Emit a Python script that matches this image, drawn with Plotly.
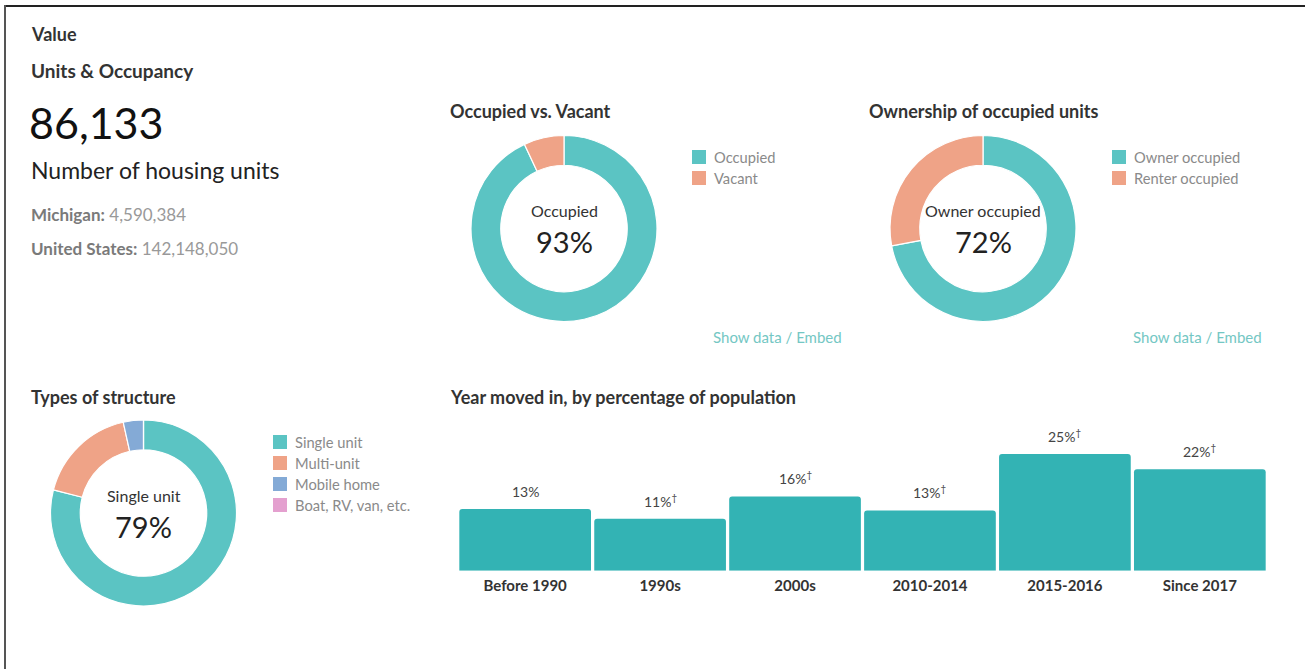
import plotly.graph_objects as go

W, H = 1305, 669

# ---------------- data ----------------
total_units = "86,133"
state_name = "Michigan"
state_units = "4,590,384"
us_units = "142,148,050"

occ_labels = ["Occupied", "Vacant"]
occ_values = [93, 7]

own_labels = ["Owner occupied", "Renter occupied"]
own_values = [72, 28]

struct_labels = ["Single unit", "Multi-unit", "Mobile home", "Boat, RV, van, etc."]
struct_values = [79, 17.5, 3.5, 0]

year_cats = ["Before 1990", "1990s", "2000s", "2010-2014", "2015-2016", "Since 2017"]
year_values = [13.2, 11.1, 15.9, 12.9, 25.0, 21.7]
year_labels = ["13%", "11%", "16%", "13%", "25%", "22%"]
year_dagger = [False, True, True, True, True, True]

# ---------------- style ----------------
FONT = "Lato, 'Open Sans', sans-serif"
pie_colors = ["#5bc4c3", "#efa387", "#84aad6", "#e4a0cf"]
bar_color = "#33b3b4"
link_color = "#74c7c4"


def px(x):
    return x / W


def py(y):
    return 1 - y / H


fig = go.Figure()
annotations = []
shapes = []


def add_donut(labels, values, cx, cy, r, legend_x, legend_y0, legend_step=21):
    fig.add_trace(go.Pie(
        labels=labels, values=values, hole=0.68, sort=False,
        direction="clockwise", rotation=0,
        marker=dict(colors=pie_colors[:len(labels)], line=dict(color="white", width=1.2)),
        textinfo="none", hoverinfo="label+percent", showlegend=False,
        domain=dict(x=[px(cx - r), px(cx + r)], y=[py(cy + r), py(cy - r)]),
    ))
    # centre label
    annotations.append(dict(x=px(cx), y=py(cy - 18), xref="paper", yref="paper",
                            text=labels[0], showarrow=False, xanchor="center", yanchor="middle",
                            font=dict(family=FONT, size=16, color="#333")))
    annotations.append(dict(x=px(cx), y=py(cy + 13), xref="paper", yref="paper",
                            text=f"{round(values[0])}%", showarrow=False, xanchor="center",
                            yanchor="middle", font=dict(family=FONT, size=29, color="#222")))
    # legend
    for i, lab in enumerate(labels):
        yc = legend_y0 + i * legend_step
        shapes.append(dict(type="rect", xref="paper", yref="paper",
                           x0=px(legend_x), x1=px(legend_x + 14),
                           y0=py(yc + 7), y1=py(yc - 7),
                           fillcolor=pie_colors[i], line=dict(width=0)))
        annotations.append(dict(x=px(legend_x + 20), y=py(yc), xref="paper", yref="paper",
                                text=lab, showarrow=False, xanchor="left", yanchor="middle",
                                font=dict(family=FONT, size=14.7, color="#8a8a8a")))


add_donut(occ_labels, occ_values, 564, 228.5, 93, 692, 157)
add_donut(own_labels, own_values, 983, 228.5, 93, 1112, 157)
add_donut(struct_labels, struct_values, 143.5, 513, 93, 273, 442)

# ---------------- bar chart ----------------
fig.add_trace(go.Bar(
    x=year_cats, y=year_values, marker=dict(color=bar_color, line=dict(width=0)),
    xaxis="x", yaxis="y", showlegend=False, hoverinfo="x+y",
))
for c, v, lab, d in zip(year_cats, year_values, year_labels, year_dagger):
    annotations.append(dict(x=c, y=v, xref="x", yref="y", yanchor="bottom", yshift=7,
                            text=lab + ("<sup>†</sup>" if d else ""), showarrow=False,
                            font=dict(family=FONT, size=14, color="#444")))

# ---------------- texts ----------------
def txt(x, y, text, size, color="#333", bold=False, anchor="left"):
    annotations.append(dict(x=px(x), y=py(y), xref="paper", yref="paper",
                            text=f"<b>{text}</b>" if bold else text, showarrow=False,
                            xanchor=anchor, yanchor="middle",
                            font=dict(family=FONT, size=size, color=color)))


txt(29, 34, "Value", 18, "#333", True)
txt(29, 70, "Units & Occupancy", 19, "#333", True)
txt(27, 123, total_units, 43, "#111")
txt(29, 170, "Number of housing units", 23, "#222")
txt(29, 215, f"<b>{state_name}:</b> <span style='color:#999'>{state_units}</span>", 17, "#7a7a7a")
txt(29, 249, f"<b>United States:</b> <span style='color:#999'>{us_units}</span>", 17, "#7a7a7a")

txt(448, 111, "Occupied vs. Vacant", 18, "#333", True)
txt(867, 111, "Ownership of occupied units", 18, "#333", True)
txt(29, 397, "Types of structure", 18, "#333", True)
txt(448, 397, "Year moved in, by percentage of population", 18, "#333", True)

txt(844, 337, "Show data / Embed", 15, link_color, anchor="right")
txt(1264, 337, "Show data / Embed", 15, link_color, anchor="right")

# frame lines
shapes.append(dict(type="line", xref="paper", yref="paper", x0=px(4), x1=1, y0=py(6), y1=py(6),
                   line=dict(color="#222", width=2)))
shapes.append(dict(type="line", xref="paper", yref="paper", x0=px(5), x1=px(5), y0=py(5), y1=0,
                   line=dict(color="#555", width=2)))

bar_left, bar_right = 457.7, 1267.3
base_y, top_y = 570.7, 570.7 - 30 * 4.67

fig.update_layout(
    width=W, height=H, margin=dict(l=0, r=0, t=0, b=0),
    paper_bgcolor="white", plot_bgcolor="white",
    showlegend=False, bargap=0.024, barcornerradius=3,
    xaxis=dict(domain=[px(bar_left), px(bar_right)], anchor="y", showgrid=False,
               zeroline=False, showline=False, ticks="", fixedrange=True,
               ticklabelstandoff=4,
               tickfont=dict(family=FONT, size=15, color="#333", weight="bold")),
    yaxis=dict(domain=[py(base_y), py(top_y)], range=[0, 30], visible=False,
               showgrid=False, zeroline=False, fixedrange=True),
    annotations=annotations, shapes=shapes,
    font=dict(family=FONT),
)

fig.write_html("out.html", config={"displayModeBar": False},
               post_script="document.body.style.margin='0';document.body.style.overflow='hidden';")
